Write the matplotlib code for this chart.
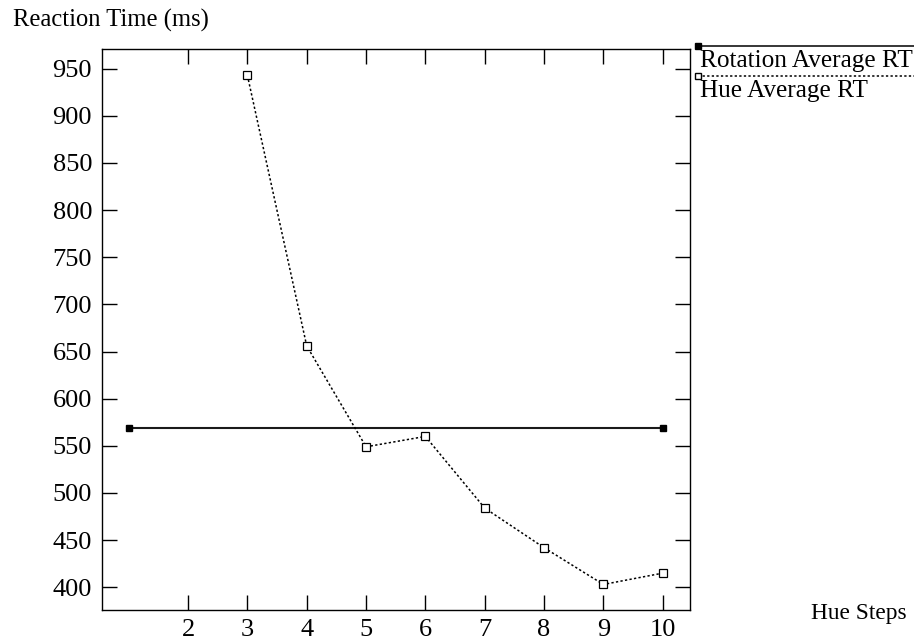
import matplotlib
matplotlib.use('Agg')
import matplotlib.pyplot as plt
from matplotlib.lines import Line2D

plt.rcParams['font.family'] = ['Liberation Serif', 'DejaVu Serif']
plt.rcParams['font.size'] = 17.5

# Hue steps and mean reaction times
hue_steps = [3, 4, 5, 6, 7, 8, 9, 10]
hue_rt = [943, 656, 549, 560, 484, 442, 403, 415]

# Rotation average is a single value spanning the step range
rotation_span = [1, 10]
rotation_rt = [569, 569]

x_ticks = [2, 3, 4, 5, 6, 7, 8, 9, 10]
y_ticks = [400, 450, 500, 550, 600, 650, 700, 750, 800, 850, 900, 950]

fig = plt.figure(figsize=(9.14, 6.41), dpi=100)
ax = fig.add_axes([0.1113, 0.0488, 0.6433, 0.8743])

ax.plot(rotation_span, rotation_rt, color='#1a1a1a', lw=1.5, marker='s',
        markersize=4.5, markerfacecolor='black', markeredgecolor='black')
ax.plot(hue_steps, hue_rt, color='black', lw=1.1, linestyle=(0, (1.5, 1.5)),
        marker='s', markersize=5.5, markerfacecolor='white',
        markeredgecolor='black', markeredgewidth=0.9)

ax.set_xlim(0.545, 10.455)
ax.set_ylim(376.2, 970.6)
ax.set_xticks(x_ticks)
ax.set_yticks(y_ticks)
ax.tick_params(direction='in', length=11, width=1, top=True, right=True,
               labelsize=19)
ax.tick_params(axis='x', pad=7)
ax.tick_params(axis='y', pad=7)
for sp in ax.spines.values():
    sp.set_linewidth(1)

fig.text(13 / 914, 1 - 27 / 641, 'Reaction Time (ms)', fontsize=17.7,
         ha='left', va='baseline')
fig.text(907 / 914, 1 - 619 / 641, 'Hue Steps', fontsize=16.8,
         ha='right', va='baseline')

# legend outside the plot, line above each entry
legend_x0 = 698 / 914
entries = [
    ('Rotation Average RT', 45.7, '-', 'black', 'black'),
    ('Hue Average RT', 75.7, (0, (1.5, 1.5)), 'black', 'white'),
]
for label, ypix, ls, col, face in entries:
    yf = 1 - ypix / 641
    fig.add_artist(Line2D([legend_x0, 1.0], [yf, yf], color=col, lw=1.1,
                          linestyle=ls, transform=fig.transFigure))
    fig.add_artist(Line2D([legend_x0], [yf], marker='s', markersize=4,
                          markerfacecolor=face, markeredgecolor='black',
                          linestyle='none', transform=fig.transFigure))
    fig.text(700 / 914, yf - 21 / 641, label, fontsize=18.2,
             ha='left', va='baseline')

fig.savefig('out.png', dpi=100)
